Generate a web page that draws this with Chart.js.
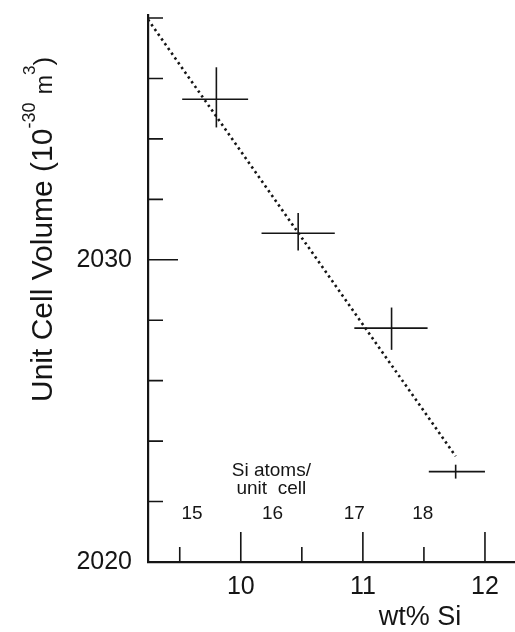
<!DOCTYPE html>
<html><head><meta charset="utf-8">
<script src="https://cdn.jsdelivr.net/npm/chart.js@4/dist/chart.umd.min.js"></script>
<style>html,body{margin:0;padding:0;background:#fff;}#wrap{width:515px;height:632px;}</style>
</head><body><div id="wrap"><canvas id="c" width="515" height="632"></canvas></div>
<script>
// ---- data ----
const wtSi       = [9.80, 10.47, 11.235, 11.76];
const volume     = [2035.31, 2030.88, 2027.74, 2022.99];
const wtSiLow    = [9.52, 10.17, 10.93, 11.54];
const wtSiHigh   = [10.06, 10.77, 11.53, 12.00];
const volumeLow  = [2034.38, 2030.31, 2027.02, 2022.76];
const volumeHigh = [2036.37, 2031.55, 2028.42, 2023.22];
const fitX = [9.24, 11.76];
const fitY = [2037.95, 2023.5];
const xTickLabels = [10, 11, 12];
const xMinorTicks = [9.5, 10.5, 11.5];
const yTickLabels = [2020, 2030];
const yMinorTicks = [2022, 2024, 2026, 2028, 2032, 2034, 2036, 2038];
const siAtoms   = ['15', '16', '17', '18'];
const siAtomsAt = [9.60, 10.26, 10.93, 11.49];

const INK = '#151515';
const FONT = '"Liberation Sans", Arial, Helvetica, sans-serif';
Chart.defaults.font.family = FONT;

const datasets = [];
wtSi.forEach((xv, i) => {
  datasets.push({ data: [{x: wtSiLow[i], y: volume[i]}, {x: wtSiHigh[i], y: volume[i]}],
    showLine: true, borderColor: INK, borderWidth: 1.6, pointRadius: 0 });
  datasets.push({ data: [{x: xv, y: volumeLow[i]}, {x: xv, y: volumeHigh[i]}],
    showLine: true, borderColor: INK, borderWidth: 1.6, pointRadius: 0 });
});
datasets.push({ data: fitX.map((v, i) => ({x: v, y: fitY[i]})),
  showLine: true, borderColor: INK, borderWidth: 2.6, borderDash: [2.4, 3.4], pointRadius: 0 });

const decor = {
  id: 'decor',
  afterDraw(chart) {
    const {ctx, scales: {x, y}} = chart;
    const left = x.left, bottom = y.bottom;
    ctx.save();
    ctx.strokeStyle = INK; ctx.lineWidth = 1.6;
    ctx.beginPath();
    yTickLabels.forEach(v => { if (v === y.min) return; const p = y.getPixelForValue(v); ctx.moveTo(left, p); ctx.lineTo(left + 30, p); });
    yMinorTicks.forEach(v => { const p = y.getPixelForValue(v); ctx.moveTo(left, p); ctx.lineTo(left + 15, p); });
    xTickLabels.forEach(v => { const p = x.getPixelForValue(v); ctx.moveTo(p, bottom); ctx.lineTo(p, bottom - 30); });
    xMinorTicks.forEach(v => { const p = x.getPixelForValue(v); ctx.moveTo(p, bottom); ctx.lineTo(p, bottom - 15); });
    ctx.stroke();

    ctx.fillStyle = INK;
    ctx.textAlign = 'center'; ctx.textBaseline = 'middle';
    ctx.font = '19px ' + FONT;
    siAtoms.forEach((t, i) => ctx.fillText(t, x.getPixelForValue(siAtomsAt[i]), bottom - 48));
    const cx = x.getPixelForValue(10.25);
    ctx.fillText('Si atoms/', cx, bottom - 91);
    ctx.fillText('unit  cell', cx, bottom - 73);

    ctx.font = '27px ' + FONT;
    ctx.fillText('wt% Si', 420, 618);

    // rotated y title with superscripts
    ctx.save();
    ctx.translate(52, 402);
    ctx.rotate(-Math.PI / 2);
    ctx.textAlign = 'left'; ctx.textBaseline = 'alphabetic';
    let pos = 0;
    const put = (t, size, dy) => { ctx.font = size + 'px ' + FONT; ctx.fillText(t, pos, dy); pos += ctx.measureText(t).width; };
    put('Unit Cell Volume (10', 30, 0);
    put('-30', 18, -17);
    put(' ', 30, 0);
    put('m', 23, 0);
    put('3', 17, -17);
    put(')', 26, 0);
    ctx.restore();
    ctx.restore();
  }
};

new Chart(document.getElementById('c'), {
  type: 'scatter',
  data: { datasets },
  options: {
    responsive: false, animation: false,
    layout: { padding: { top: 15, right: 0, left: 0, bottom: 0 } },
    plugins: { legend: { display: false }, tooltip: { enabled: false } },
    scales: {
      x: {
        type: 'linear', min: 9.24, max: 12.246,
        afterBuildTicks: s => { s.ticks = xTickLabels.map(v => ({value: v})); },
        afterFit: s => { s.height = 70; s.paddingLeft = 0; s.paddingRight = 0; },
        grid: { display: false, drawTicks: false },
        border: { display: true, color: INK, width: 2.2 },
        ticks: { color: INK, font: { size: 25 }, padding: 10, maxRotation: 0, autoSkip: false,
                 callback: v => String(v) }
      },
      y: {
        type: 'linear', min: 2020, max: 2038.1,
        afterBuildTicks: s => { s.ticks = yTickLabels.map(v => ({value: v})); },
        afterFit: s => { s.width = 148; s.paddingTop = 0; s.paddingBottom = 0; },
        grid: { display: false, drawTicks: false },
        border: { display: true, color: INK, width: 2.2 },
        ticks: { color: INK, font: { size: 25 }, padding: 16, autoSkip: false,
                 callback: v => String(v) }
      }
    }
  },
  plugins: [decor]
});
</script>
</body></html>
